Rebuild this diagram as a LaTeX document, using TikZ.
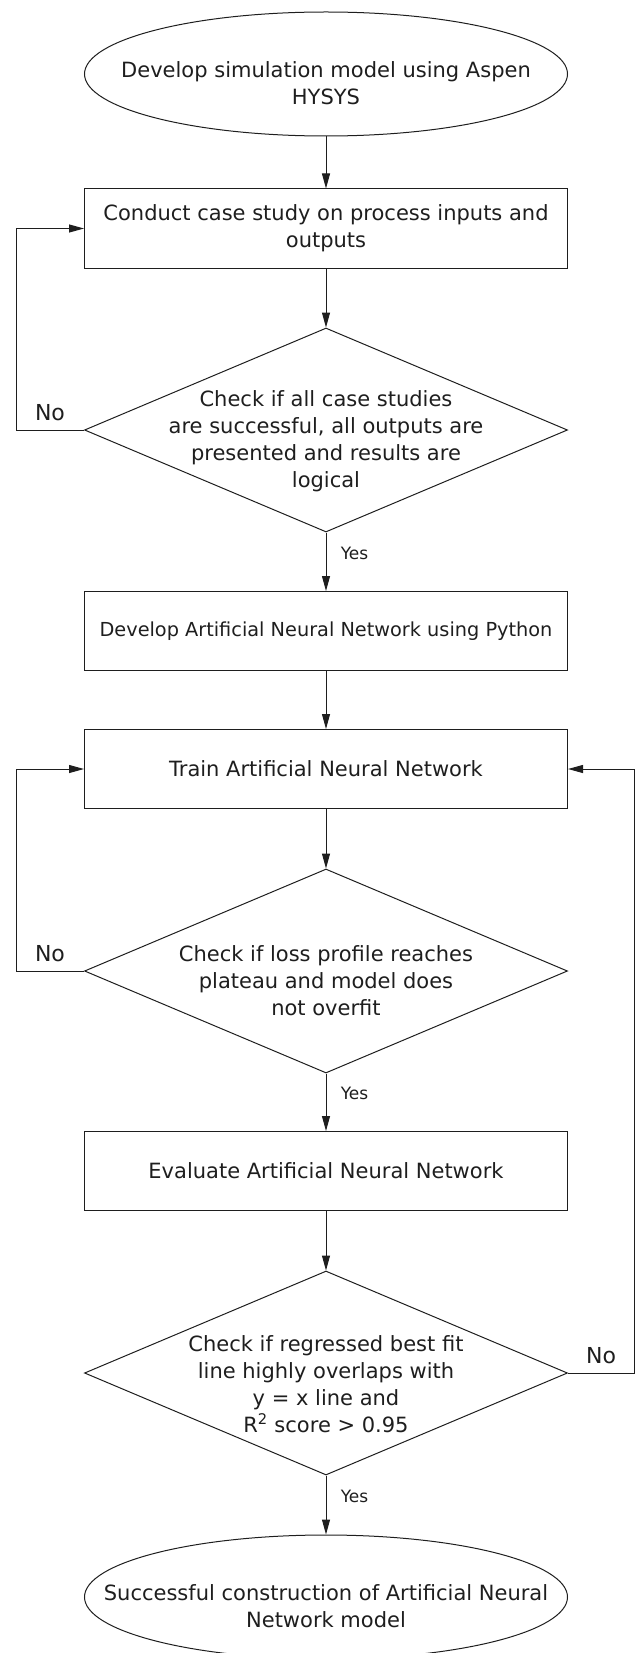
\documentclass[tikz,border=0pt]{standalone}
\usepackage{fontspec}
\setmainfont{DejaVu Sans}
\usepackage{tikz}
\usetikzlibrary{shapes.geometric, arrows.meta, positioning}

\definecolor{inkgray}{RGB}{30, 30, 30}

\tikzset{
  flowline/.style={draw=inkgray, line width=1pt, -{Triangle[length=15pt, width=8pt]}},
  procbox/.style={draw=inkgray, line width=1pt, minimum width=483pt, minimum height=79pt, inner sep=0pt, align=center, font=\fontsize{21}{27}\selectfont},
  terminal/.style={ellipse, draw=inkgray, line width=1pt, minimum width=483pt, minimum height=124pt, inner sep=0pt},
  decision/.style={diamond, draw=inkgray, line width=1pt, minimum width=483pt, minimum height=204pt, inner sep=0pt},
  shapetext/.style={align=center, text=inkgray, font=\fontsize{21}{27}\selectfont},
  yeslabel/.style={font=\fontsize{17}{20}\selectfont, text=inkgray, anchor=west, xshift=11pt},
  nolabel/.style={font=\fontsize{22}{26}\selectfont, text=inkgray, above=5pt}
}

\begin{document}
\begin{tikzpicture}[x=1pt, y=-1pt]
  \useasboundingbox (0,0) rectangle (635,1653);
  \clip (0,0) rectangle (635,1653);

  % Start
  \node[terminal] (start) at (326, 74) {};
  \node[shapetext] (starttxt) at (326, 83) {Develop simulation model using Aspen\\HYSYS};

  % Case study
  \node[procbox, text=inkgray] (casestudy) at (326, 228.5) {Conduct case study on process inputs and\\outputs};
  \node[decision] (checkcase) at (326, 430) {};
  \node[shapetext] (checkcasetxt) at (326, 441) {Check if all case studies\\are successful, all outputs are\\presented and results are\\logical};

  % Network
  \node[procbox, text=inkgray, font=\fontsize{19.3}{25}\selectfont] (develop) at (326, 631) {Develop Artificial Neural Network using Python};
  \node[procbox, text=inkgray] (train) at (326, 769) {Train Artificial Neural Network};
  \node[decision] (checkloss) at (326, 971) {};
  \node[shapetext] (checklosstxt) at (326, 981) {Check if loss profile reaches\\plateau and model does\\not overfit};

  % Evaluation
  \node[procbox, text=inkgray] (evaluate) at (326, 1171) {Evaluate Artificial Neural Network};
  \node[decision] (checkfit) at (326, 1373) {};
  \node[shapetext] (checkfittxt) at (326, 1384) {Check if regressed best fit\\line highly overlaps with\\y = x line and\\R\textsuperscript{2} score > 0.95};

  % End
  \node[terminal] (finish) at (326, 1597) {};
  \node[shapetext] (finishtxt) at (326, 1606) {Successful construction of Artificial Neural\\Network model};

  % Main flow
  \draw[flowline] (start) -- (casestudy);
  \draw[flowline] (casestudy) -- (checkcase);
  \draw[flowline] (checkcase.south) -- node[yeslabel, pos=0.35] {Yes} (develop);
  \draw[flowline] (develop) -- (train);
  \draw[flowline] (train) -- (checkloss);
  \draw[flowline] (checkloss.south) -- node[yeslabel, pos=0.35] {Yes} (evaluate);
  \draw[flowline] (evaluate) -- (checkfit);
  \draw[flowline] (checkfit.south) -- node[yeslabel, pos=0.35] {Yes} (finish);

  % Loops
  \draw[flowline] (checkcase.west) -- node[nolabel] {No} ++(-68,0) |- (casestudy.west);
  \draw[flowline] (checkloss.west) -- node[nolabel] {No} ++(-68,0) |- (train.west);
  \draw[flowline] (checkfit.east) -- node[nolabel] {No} ++(66,0) |- (train.east);
\end{tikzpicture}
\end{document}
